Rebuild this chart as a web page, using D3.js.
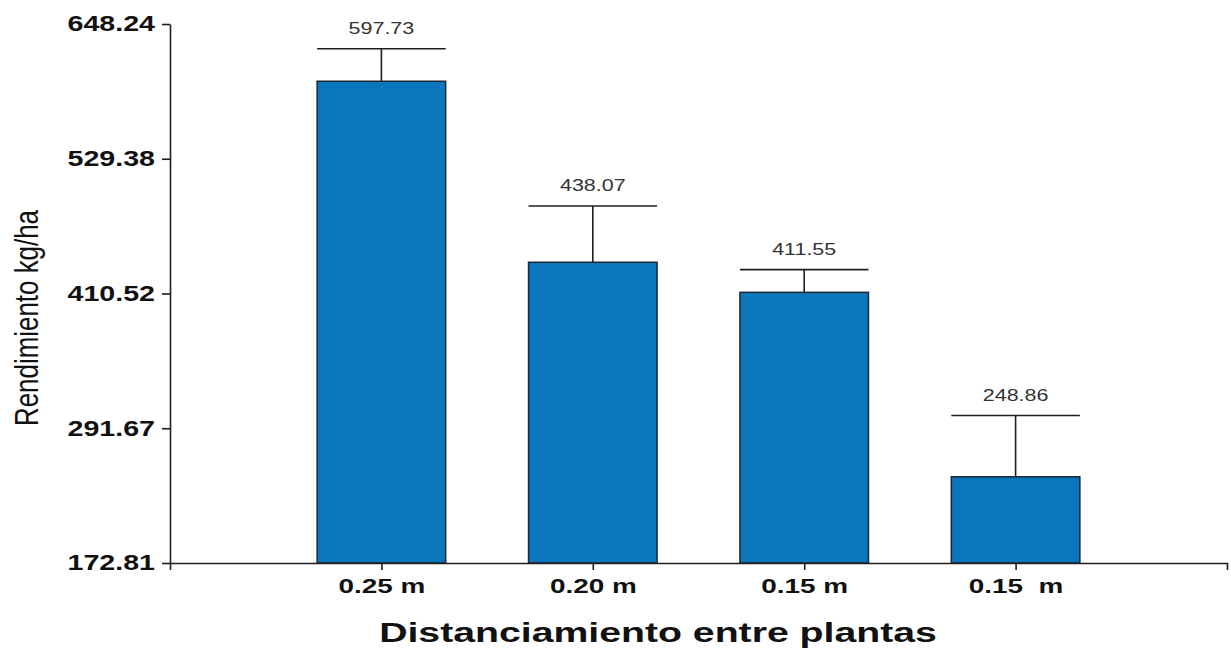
<!DOCTYPE html>
<html>
<head>
<meta charset="utf-8">
<script src="https://cdn.jsdelivr.net/npm/d3@7"></script>
<style>
  html, body { margin: 0; padding: 0; background: #fff; }
  svg { display: block; font-family: "Liberation Sans", Arial, sans-serif; }
</style>
</head>
<body>
<svg id="chart" width="1231" height="648"></svg>
<script>
const categories = ["0.25 m", "0.20 m", "0.15 m", "0.15  m"];
const means = [597.73, 438.07, 411.55, 248.86];
const errors = [28.7, 49.6, 20.0, 54.0];
const yTicks = [172.81, 291.67, 410.52, 529.38, 648.24];
const yTitle = "Rendimiento kg/ha";
const xTitle = "Distanciamiento entre plantas";

(function () {
const data = categories.map((c, i) => ({ c, v: means[i], e: errors[i] }));

const svg = d3.select("#chart");
const pLeft = 170, pRight = 1227, pTop = 24, pBottom = 563;

const y = d3.scaleLinear().domain([yTicks[0], yTicks[yTicks.length - 1]]).range([pBottom, pTop]);
const x = d3.scalePoint().domain(categories).range([pLeft, pRight]).padding(1);
const bw = x.step() * 0.608;

const axisColor = "#1e1e1e";

function stretch(sel, k) {
  sel.each(function () {
    const len = this.getComputedTextLength();
    d3.select(this).attr("textLength", len * k).attr("lengthAdjust", "spacingAndGlyphs");
  });
}

// bars
svg.append("g").selectAll("rect").data(data).join("rect")
  .attr("x", d => x(d.c) - bw / 2)
  .attr("y", d => y(d.v))
  .attr("width", bw)
  .attr("height", d => y(yTicks[0]) - y(d.v))
  .attr("fill", "#0a77bd")
  .attr("stroke", "#1b2733")
  .attr("stroke-width", 1.5);

// error bars
const eg = svg.append("g").attr("stroke", axisColor).attr("stroke-width", 1.6);
eg.selectAll("line.v").data(data).join("line").attr("class", "v")
  .attr("x1", d => x(d.c)).attr("x2", d => x(d.c))
  .attr("y1", d => y(d.v)).attr("y2", d => y(d.v + d.e));
eg.selectAll("line.cap").data(data).join("line").attr("class", "cap")
  .attr("x1", d => x(d.c) - bw / 2).attr("x2", d => x(d.c) + bw / 2)
  .attr("y1", d => y(d.v + d.e)).attr("y2", d => y(d.v + d.e));

// value labels
svg.append("g").selectAll("text").data(data).join("text")
  .attr("x", d => x(d.c))
  .attr("y", d => y(d.v + d.e) - 15)
  .attr("text-anchor", "middle")
  .attr("font-size", 16.5)
  .attr("fill", "#333")
  .text(d => d.v.toFixed(2))
  .call(stretch, 1.3);

// y axis
const gy = svg.append("g").attr("transform", `translate(${pLeft},0)`)
  .call(d3.axisLeft(y).tickValues(yTicks).tickFormat(d3.format(".2f")).tickSize(8).tickSizeOuter(0).tickPadding(7));
gy.selectAll("path, line").attr("stroke", axisColor).attr("stroke-width", 1.6);
gy.selectAll("text").attr("font-size", 21.5).attr("font-weight", "bold").attr("fill", "#111")
  .attr("font-family", "'Liberation Sans', Arial, sans-serif")
  .call(stretch, 1.33);

// x axis
const gx = svg.append("g").attr("transform", `translate(0,${pBottom})`)
  .call(d3.axisBottom(x).tickSize(7).tickSizeOuter(7).tickPadding(8));
gx.selectAll("path, line").attr("stroke", axisColor).attr("stroke-width", 1.6);
gx.selectAll("text").attr("font-size", 20.5).attr("font-weight", "bold").attr("fill", "#111")
  .attr("font-family", "'Liberation Sans', Arial, sans-serif")
  .style("white-space", "pre")
  .call(stretch, 1.36);

// axis titles
svg.append("text")
  .attr("x", 658).attr("y", 642)
  .attr("text-anchor", "middle")
  .attr("font-size", 28).attr("font-weight", "bold").attr("fill", "#111")
  .text(xTitle)
  .call(stretch, 1.4);

svg.append("text")
  .attr("transform", "translate(38,318) scale(1.4,1) rotate(-90)")
  .attr("text-anchor", "middle")
  .attr("font-size", 24).attr("fill", "#111")
  .text(yTitle)
  .attr("textLength", 216).attr("lengthAdjust", "spacingAndGlyphs");
})();
</script>
</body>
</html>
